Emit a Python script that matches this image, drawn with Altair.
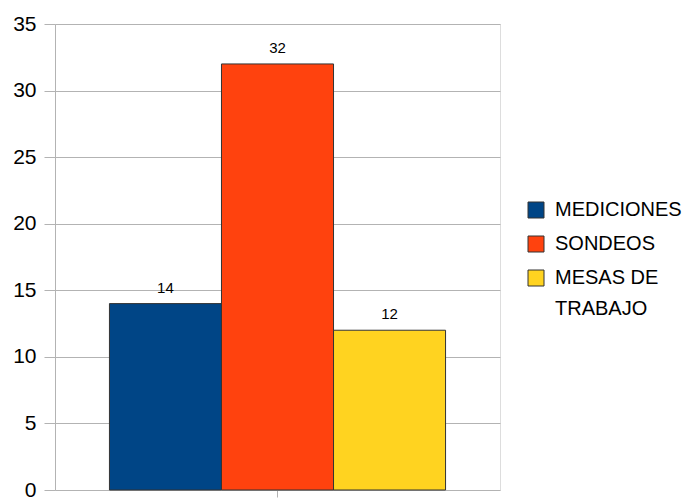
import altair as alt
import pandas as pd

categories = ["MEDICIONES", "SONDEOS", "MESAS DE TRABAJO"]
values = [14, 32, 12]
colors = ["#004586", "#ff420e", "#ffd320"]
y_ticks = [0, 5, 10, 15, 20, 25, 30, 35]

df = pd.DataFrame({"g": [""] * len(categories), "serie": categories, "valor": values})

FONT = "Liberation Sans"
GRID = "#b3b3b3"

base = alt.Chart(df).encode(
    x=alt.X(
        "g:N",
        title=None,
        scale=alt.Scale(paddingInner=0, paddingOuter=0.162),
        axis=alt.Axis(labels=False, ticks=True, tickSize=7, tickColor=GRID,
                      domain=False, grid=False),
    ),
    xOffset=alt.XOffset("serie:N", sort=categories,
                        scale=alt.Scale(paddingInner=0, paddingOuter=0)),
)

bars = base.mark_bar(stroke="#333333", strokeWidth=1).encode(
    y=alt.Y(
        "valor:Q",
        title=None,
        scale=alt.Scale(domain=[0, 35], nice=False),
        axis=alt.Axis(values=y_ticks, tickSize=11, tickColor=GRID, gridColor=GRID,
                      domainColor=GRID, labelFontSize=21, labelColor="black",
                      labelPadding=8, labelFont=FONT),
    ),
    color=alt.Color(
        "serie:N",
        sort=categories,
        scale=alt.Scale(domain=categories, range=colors),
        legend=alt.Legend(
            title=None,
            orient="none",
            legendX=471,
            legendY=176,
            padding=0,
            symbolType="square",
            symbolSize=256,
            symbolStrokeColor="#333333",
            symbolStrokeWidth=1,
            labelFontSize=20,
            labelFont=FONT,
            labelColor="black",
            labelOffset=9,
            labelLimit=0,
            rowPadding=14,
            labelExpr="datum.label == 'MESAS DE TRABAJO' ? ['MESAS DE', 'TRABAJO'] : datum.label",
        ),
    ),
)

text = base.mark_text(baseline="alphabetic", dy=-11, fontSize=15, font=FONT,
                      color="black").encode(
    y=alt.Y("valor:Q"),
    text=alt.Text("valor:Q"),
)

chart = (
    alt.layer(bars, text)
    .properties(
        width=445,
        height=466,
        autosize=alt.AutoSizeParams(type="none"),
        padding={"left": 47, "top": 16, "right": 185, "bottom": 8},
    )
    .configure_view(stroke=GRID, strokeWidth=1)
    .configure(background="white", style={"guide-label": {"lineHeight": 31}})
)

chart.save("out.html", embed_options={"renderer": "svg", "actions": False})
